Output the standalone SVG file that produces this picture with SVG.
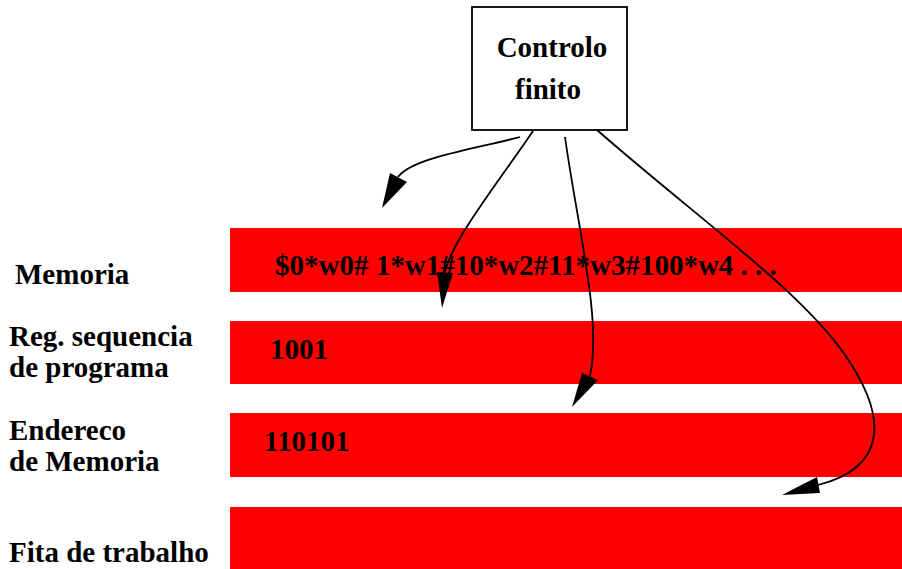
<svg xmlns="http://www.w3.org/2000/svg" width="902" height="569" viewBox="0 0 902 569">
  <style>
    .lbl { font-family: "Liberation Serif", "Times New Roman", serif; font-weight: bold; font-size: 29px; fill: #000; }
    .band { fill: #ff0000; }
    .edge { fill: none; stroke: #000; stroke-width: 1.8; }
    .head { fill: #000; stroke: none; }
  </style>
  <rect width="902" height="569" fill="#fff"/>

  <!-- tape bands -->
  <g id="memoria">
    <rect class="band" x="230" y="228" width="672" height="64"/>
    <text class="lbl" x="15" y="284">Memoria</text>
    <text class="lbl" x="275" y="275">$0*w0# 1*w1#10*w2#11*w3#100*w4 . . .</text>
  </g>
  <g id="reg-sequencia">
    <rect class="band" x="230" y="321" width="672" height="63"/>
    <text class="lbl" x="9" y="346">Reg. sequencia</text>
    <text class="lbl" x="9" y="377">de programa</text>
    <text class="lbl" x="270" y="359">1001</text>
  </g>
  <g id="endereco">
    <rect class="band" x="230" y="413" width="672" height="64"/>
    <text class="lbl" x="9" y="440">Endereco</text>
    <text class="lbl" x="9" y="471">de Memoria</text>
    <text class="lbl" x="264" y="451">110101</text>
  </g>
  <g id="fita">
    <rect class="band" x="230" y="507" width="672" height="62"/>
    <text class="lbl" x="9" y="562">Fita de trabalho</text>
  </g>

  <!-- finite control -->
  <g id="controlo">
    <rect x="472" y="7" width="155" height="123" fill="#fff" stroke="#000" stroke-width="1.8"/>
    <text class="lbl" x="552" y="57" text-anchor="middle">Controlo</text>
    <text class="lbl" x="548" y="99" text-anchor="middle">finito</text>
  </g>

  <!-- connectors -->
  <g id="connectors">
    <path class="edge" d="M520,137 C470,150 412,158 398,177"/>
    <polygon class="head" points="382,208 390,173 407,182"/>
    <path class="edge" d="M533,131 C500,180 452,240 445,272"/>
    <polygon class="head" points="442,308 437,272 453,273"/>
    <path class="edge" d="M565,137 C578,230 602,320 590,376"/>
    <polygon class="head" points="572,407 582,373 598,380"/>
    <path class="edge" d="M597,130 C700,220 800,290 845,355 C890,420 885,468 818,485"/>
    <polygon class="head" points="782,495 817,477 820,493"/>
  </g>
</svg>
